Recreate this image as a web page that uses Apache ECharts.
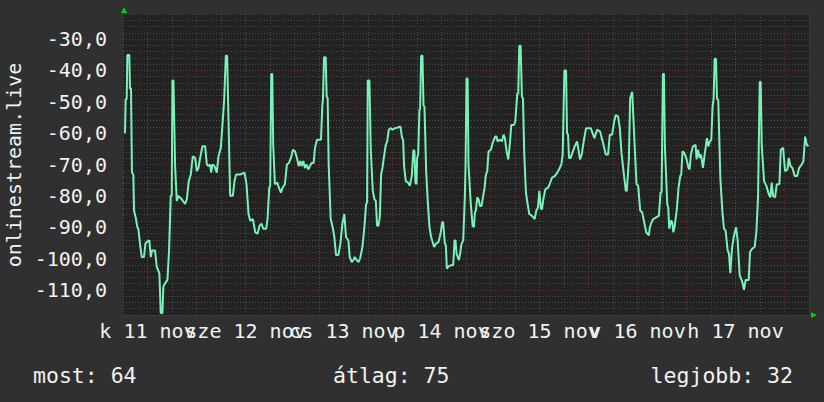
<!DOCTYPE html>
<html><head><meta charset="utf-8">
<script src="https://cdn.jsdelivr.net/npm/echarts@6/dist/echarts.min.js"></script>
<style>html,body{margin:0;padding:0;background:#303030}#c{width:824px;height:402px}</style>
</head><body><div id="c"></div>
<script>
// x: hours since 11 nov 00:00
const dayLabels = ['k 11 nov','sze 12 nov','cs 13 nov','p 14 nov','szo 15 nov','v 16 nov','h 17 nov'];
const yAxisTitle = 'onlinestream.live';
const legendTexts = ['most: 64', 'átlag: 75', 'legjobb: 32'];
const hours = [
6.49,6.65,6.90,7.06,7.55,7.71,7.96,8.20,8.53,8.70,9.19,9.51,9.76,10.17,10.58,11.15,11.48,11.80,12.46,12.79,13.11,13.85,14.26,14.91,15.24,15.65,15.89,16.30,16.88,17.28,17.69,17.94,18.10,18.35,18.76,19.17,19.57,20.39,21.21,21.62,22.11,22.60,23.09,23.67,24.07,24.48,24.89,25.46,26.12,26.53,26.93,27.34,27.59,27.91,28.40,28.97,29.38,29.95,30.36,30.77,31.18,31.50,31.83,32.24,32.90,33.30,33.71,34.69,35.76,36.25,36.74,37.16,37.81,38.38,38.95,39.44,
39.93,40.34,41.07,41.40,41.81,42.05,42.30,42.55,42.79,43.20,43.77,44.18,44.67,45.08,45.65,46.14,46.64,47.13,47.62,48.11,48.60,49.01,49.42,49.74,50.15,50.56,50.97,51.38,51.79,52.20,52.69,53.02,53.51,54.49,54.82,54.98,55.23,55.63,55.88,56.12,56.37,56.86,57.35,57.76,58.17,58.74,59.23,59.72,60.21,60.62,61.20,61.52,62.01,62.42,62.75,63.24,63.65,64.06,64.63,65.12,65.53,65.78,65.94,66.35,66.68,67.17,67.58,67.91,68.23,68.56,68.89,69.21,69.54,69.87,70.36,70.69,71.09,71.58,72.00,72.65,73.30,
73.94,74.35,74.60,74.84,75.25,75.82,76.23,76.72,77.13,77.38,77.62,77.87,78.03,78.28,78.60,78.77,79.01,79.34,79.59,79.83,80.24,80.65,81.06,81.47,82.20,82.61,83.27,83.76,84.17,84.41,84.82,85.06,85.31,85.64,86.29,86.87,87.19,87.44,87.68,88.25,88.50,88.90,89.32,89.72,89.89,90.13,90.38,90.62,91.12,91.61,91.93,92.18,92.42,92.75,93.08,93.41,93.81,94.22,94.55,94.87,95.20,95.53,96.10,96.51,96.83,97.16,97.49,97.73,98.30,98.80,99.20,99.53,99.94,100.35,100.76,101.08,101.74,102.07,102.56,102.80,103.05,103.37,103.70,103.95,104.27,104.68,105.09,105.50,106.07,106.48,
106.81,107.22,107.63,107.96,108.12,108.36,108.61,108.94,109.43,110.08,110.49,111.06,111.72,112.37,112.94,113.35,113.68,114.09,114.50,114.74,114.99,115.23,115.64,116.05,116.63,117.20,117.93,118.34,118.83,119.40,120.55,121.45,122.10,122.84,123.58,124.23,124.80,125.21,125.78,126.28,126.68,127.26,127.67,128.08,128.57,129.14,129.38,129.88,130.20,130.70,130.86,131.35,131.76,132.17,132.66,133.15,133.56,134.13,134.79,135.03,135.44,135.85,136.67,137.24,137.65,137.90,138.22,138.47,138.71,139.28,139.53,139.78,140.19,140.51,140.76,
141.07,141.64,142.05,142.46,142.71,143.03,143.44,143.93,144.50,144.75,145.08,145.57,146.22,146.47,146.80,147.20,147.53,148.02,148.51,149.00,149.33,149.74,150.07,150.39,150.64,150.89,151.21,151.46,151.78,152.28,152.77,153.17,153.58,154.08,154.40,154.73,155.14,155.55,156.12,156.53,157.02,157.67,158.08,158.49,159.23,159.56,160.13,160.70,161.11,161.52,161.93,162.17,162.42,162.99,163.56,164.13,164.54,164.87,165.20,165.69,166.10,166.76,167.08,167.66,168.14,168.72,169.05,169.45,169.94,170.52,171.09,171.58,172.23,172.64,173.05,173.46,173.87
];
const values = [
-60.0,-49.2,-49.2,-35.1,-35.1,-45.8,-45.8,-72.6,-73.2,-84.7,-87.4,-90.0,-90.5,-95.3,-99.5,-99.5,-95.3,-94.7,-94.2,-99.5,-97.4,-97.4,-102.6,-104.7,-117.4,-117.4,-108.9,-107.9,-106.8,-97.4,-80.0,-80.0,-43.2,-43.2,-70.5,-81.6,-80.0,-81.1,-82.6,-81.1,-75.3,-73.2,-67.4,-67.9,-72.1,-71.1,-67.9,-64.2,-64.2,-70.0,-70.5,-70.0,-72.6,-70.0,-70.5,-72.6,-67.4,-64.7,-57.4,-49.5,-35.3,-35.3,-55.3,-80.0,-80.0,-75.3,-73.2,-73.2,-72.6,-76.3,-85.8,-87.9,-87.4,-91.6,-92.1,-89.5,
-88.9,-90.5,-90.5,-87.4,-77.4,-76.8,-41.1,-41.1,-63.7,-76.3,-75.8,-77.4,-79.0,-77.4,-76.3,-70.0,-69.5,-67.9,-65.3,-65.8,-67.9,-70.5,-68.9,-70.5,-68.9,-71.1,-70.0,-71.6,-70.5,-69.5,-69.5,-64.7,-62.1,-62.1,-51.1,-49.0,-35.8,-35.8,-48.4,-48.9,-70.0,-87.4,-90.0,-93.2,-98.9,-98.9,-95.3,-88.9,-85.8,-93.2,-94.2,-99.5,-101.1,-100.5,-99.5,-100.5,-101.1,-100.0,-96.3,-90.0,-82.6,-82.1,-43.2,-43.2,-65.3,-78.4,-81.1,-81.6,-89.5,-89.5,-86.8,-73.2,-71.1,-67.9,-63.7,-62.6,-58.9,-58.4,-58.9,-58.4,-58.2,
-57.9,-61.6,-62.1,-70.5,-75.3,-75.8,-76.8,-73.7,-65.3,-65.8,-75.8,-76.3,-67.9,-66.8,-52.6,-52.1,-35.3,-35.3,-51.1,-51.6,-72.1,-82.1,-90.0,-93.2,-96.3,-95.3,-94.7,-92.1,-88.4,-88.4,-95.3,-95.8,-103.2,-102.6,-102.1,-102.1,-94.2,-94.2,-98.4,-100.5,-98.9,-95.3,-94.2,-80.0,-70.0,-42.6,-42.6,-70.0,-81.6,-89.5,-90.0,-85.3,-84.7,-80.5,-81.1,-83.2,-83.2,-80.0,-77.4,-73.2,-72.1,-65.8,-65.3,-63.2,-62.1,-61.1,-61.1,-62.6,-62.1,-62.6,-60.5,-61.6,-65.8,-68.4,-63.2,-57.4,-57.4,-56.3,-47.4,-47.4,-32.1,-32.1,-48.4,-48.9,-66.8,-79.0,-82.6,-85.8,-86.3,-86.8,
-87.4,-84.7,-83.7,-78.4,-78.4,-84.2,-84.2,-81.1,-77.9,-77.4,-76.3,-74.2,-73.7,-72.6,-71.1,-70.0,-66.8,-40.0,-40.0,-60.0,-60.5,-67.9,-67.9,-66.3,-64.2,-62.6,-68.4,-66.8,-62.6,-58.4,-58.4,-61.6,-58.9,-59.5,-63.2,-66.8,-66.8,-60.5,-60.5,-56.3,-54.2,-54.7,-58.4,-66.3,-72.1,-78.4,-78.4,-68.4,-49.0,-46.8,-46.8,-65.3,-76.3,-76.8,-84.7,-85.3,-87.9,-91.6,-92.6,-90.0,-88.4,-87.4,-86.8,-86.3,-78.9,-78.9,-41.1,-41.1,-64.2,-82.6,-83.7,-90.5,-87.9,-88.4,-91.6,
-90.0,-84.2,-77.4,-73.7,-73.2,-65.8,-66.3,-67.9,-71.1,-71.6,-66.8,-64.2,-63.7,-68.4,-65.3,-67.9,-66.8,-71.1,-66.3,-61.6,-64.2,-62.6,-62.1,-51.6,-48.9,-36.3,-36.3,-48.9,-49.5,-74.2,-84.7,-90.5,-91.1,-97.4,-98.4,-104.7,-96.8,-93.2,-90.0,-94.2,-105.3,-107.4,-110.0,-106.8,-106.8,-97.9,-96.8,-96.3,-91.6,-80.5,-43.7,-43.7,-63.7,-75.3,-76.8,-79.4,-80.5,-75.8,-80.0,-80.5,-76.3,-76.3,-65.3,-64.7,-72.1,-71.6,-67.9,-70.5,-71.1,-73.7,-73.7,-71.1,-70.0,-68.9,-61.1,-63.7,-64.2
];

const FONT = "'DejaVu Sans Mono', monospace";
const GREY = '#4c4c4c', RED = '#6e3232', TXT = '#f2f2f2';
const chart = echarts.init(document.getElementById('c'), null, {renderer: 'svg'});
const data = hours.map((h, i) => [h, values[i]]);
chart.setOption({
  animation: false,
  backgroundColor: '#303030',
  grid: {left: 123, right: 15, top: 14, bottom: 87, show: true, backgroundColor: '#222222', borderWidth: 0, containLabel: false},
  xAxis: {
    type: 'value', min: 6, max: 174, interval: 6,
    axisLine: {show: false}, axisTick: {show: false},
    splitLine: {show: true, lineStyle: {color: [GREY, GREY, GREY, RED], type: [1, 2], width: 1}},
    axisLabel: {
      show: true, margin: 6, color: TXT, fontFamily: FONT, fontSize: 20, hideOverlap: false,
      showMinLabel: true, showMaxLabel: true,
      formatter: v => { const k = (Math.round(v) - 12) / 24; return Number.isInteger(k) && dayLabels[k] ? dayLabels[k] : ''; }
    }
  },
  yAxis: {
    type: 'value', min: -118, max: -22, interval: 2,
    axisLine: {show: false}, axisTick: {show: false},
    splitLine: {show: true, lineStyle: {color: [GREY, GREY, GREY, GREY, RED], type: [1, 2], width: 1}},
    axisLabel: {
      margin: 16, color: TXT, fontFamily: FONT, fontSize: 20,
      formatter: v => (Math.round(v) % 10 === 0 && v > -118 && v < -22) ? v.toFixed(1).replace('.', ',') : ''
    }
  },
  series: [{
    type: 'line', data: data, showSymbol: false, symbol: 'none',
    lineStyle: {color: '#78f2b6', width: 2}, z: 5
  }],
  graphic: [
    {type: 'text', x: 14, y: 165, rotation: Math.PI / 2,
     style: {text: yAxisTitle, fill: TXT, font: '20px ' + FONT, align: 'center', verticalAlign: 'middle'}},
    {type: 'text', x: 33, y: 375, style: {text: legendTexts[0], fill: TXT, font: '21.5px ' + FONT, align: 'left', verticalAlign: 'middle'}},
    {type: 'text', x: 333, y: 375, style: {text: legendTexts[1], fill: TXT, font: '21.5px ' + FONT, align: 'left', verticalAlign: 'middle'}},
    {type: 'text', x: 793, y: 375, style: {text: legendTexts[2], fill: TXT, font: '21.5px ' + FONT, align: 'right', verticalAlign: 'middle'}},
    {type: 'polygon', shape: {points: [[121, 13], [127, 13], [124, 7]]}, style: {fill: '#00d000'}},
    {type: 'polygon', shape: {points: [[811, 312], [811, 318], [817, 315]]}, style: {fill: '#00d000'}}
  ]
});
</script></body></html>
